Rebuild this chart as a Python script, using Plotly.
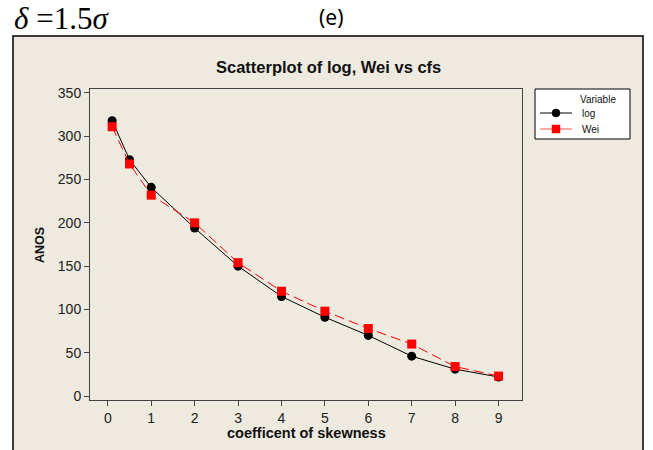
import plotly.graph_objects as go

# Coefficient of skewness (x) and ANOS values for the two fitted models
cfs = [0.1, 0.5, 1, 2, 3, 4, 5, 6, 7, 8, 9]
log_anos = [318, 273, 241, 194, 150, 115, 91, 70, 46, 31, 22]
wei_anos = [311, 268, 232, 200, 154, 121, 98, 78, 60, 34, 23]

series_names = ["log", "Wei"]
series_colors = ["black", "#ff0000"]
series_symbols = ["circle", "square"]

x_ticks = [0, 1, 2, 3, 4, 5, 6, 7, 8, 9]
y_ticks = [0, 50, 100, 150, 200, 250, 300, 350]

W, H = 653, 450
ML, MR, MT, MB = 90, 131, 89, 50
PW, PH = W - ML - MR, H - MT - MB


def px(x):
    return (x - ML) / PW


def py(y):
    return (H - MB - y) / PH


def label(x, y, text, size, family="Liberation Sans", **kw):
    fig.add_annotation(x=px(x), y=py(y), xref="paper", yref="paper",
                       xanchor=kw.pop("xanchor", "center"), yanchor="middle",
                       text=text, showarrow=False,
                       font=dict(family=family, size=size, color=kw.pop("color", "#111")),
                       **kw)


fig = go.Figure()

fig.add_trace(go.Scatter(
    x=cfs, y=log_anos, name=series_names[0], mode="lines+markers",
    line=dict(color=series_colors[0], width=1),
    marker=dict(symbol=series_symbols[0], size=9, color=series_colors[0]),
))
fig.add_trace(go.Scatter(
    x=cfs, y=wei_anos, name=series_names[1], mode="lines+markers",
    line=dict(color=series_colors[1], width=1, dash="10px,5px"),
    marker=dict(symbol=series_symbols[1], size=9, color=series_colors[1]),
))

# beige graph panel behind the data region
fig.add_shape(type="rect", xref="paper", yref="paper", layer="below",
              x0=px(13), x1=px(643), y0=py(460), y1=py(36),
              fillcolor="#EEEAE0", line=dict(color="black", width=1.5))

axis_common = dict(
    showgrid=False, zeroline=False, showline=True, mirror=True,
    linecolor="#444", linewidth=1, ticks="outside", ticklen=5,
    tickcolor="#444", tickfont=dict(family="Liberation Sans", size=14, color="#222"),
)

fig.update_xaxes(range=[-0.41, 9.54], tickvals=x_ticks, **axis_common)
fig.update_yaxes(range=[-4.6, 354.6], tickvals=y_ticks, **axis_common)

label(328, 67, "<b>Scatterplot of log, Wei vs cfs</b>", 16.5)
label(306, 433, "<b>coefficent of skewness</b>", 14.5)
label(40, 245, "<b>ANOS</b>", 12.5, textangle=-90)
label(12, 18, "<i>δ</i> =1.5<i>σ</i>", 31, family="Liberation Serif",
      xanchor="left", color="black")
label(331, 17, "(e)", 21, family="Noto Sans", color="black")

# legend box drawn to the Minitab layout
fig.add_shape(type="rect", xref="paper", yref="paper",
              x0=px(535), x1=px(630), y0=py(139), y1=py(89),
              fillcolor="white", line=dict(color="black", width=1))
label(598, 99, "Variable", 10)
for i, (name, color, symbol) in enumerate(zip(series_names, series_colors, series_symbols)):
    yy = 113 + 16 * i
    fig.add_shape(type="line", xref="paper", yref="paper",
                  x0=px(540), x1=px(572), y0=py(yy), y1=py(yy),
                  line=dict(color=color if i == 0 else "#ff5050", width=1))
    r = 4
    fig.add_shape(type="circle" if symbol == "circle" else "rect",
                  xref="paper", yref="paper",
                  x0=px(556 - r), x1=px(556 + r), y0=py(yy + r), y1=py(yy - r),
                  fillcolor=color, line=dict(color=color, width=0.5))
    label(580, yy, name, 10, xanchor="left")

fig.update_layout(
    width=W, height=H,
    margin=dict(l=ML, r=MR, t=MT, b=MB),
    paper_bgcolor="white", plot_bgcolor="white",
    showlegend=False,
)

fig.write_html("out.html")
